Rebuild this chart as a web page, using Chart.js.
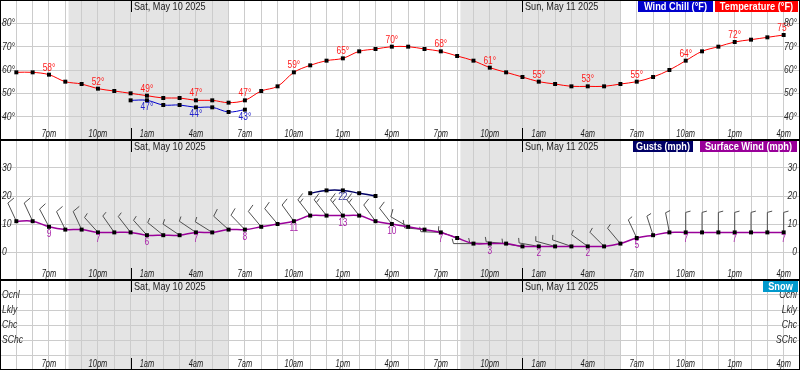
<!DOCTYPE html>
<html>
<head>
<meta charset="utf-8">
<script src="https://cdn.jsdelivr.net/npm/chart.js@4.4.1/dist/chart.umd.min.js"></script>
<style>
  html, body { margin: 0; padding: 0; background: #fff; }
  canvas { display: block; }
</style>
</head>
<body>
<canvas id="tempChart" width="800" height="140"></canvas>
<canvas id="windChart" width="800" height="140"></canvas>
<canvas id="snowChart" width="800" height="90"></canvas>
<script>
// hourly slots, 4pm Fri .. 5pm Sun (first and last slot are the frame edges)
var hourLabels = ['4pm','5pm','6pm','7pm','8pm','9pm','10pm','11pm',
  '12am','1am','2am','3am','4am','5am','6am','7am','8am','9am','10am','11am',
  '12pm','1pm','2pm','3pm','4pm','5pm','6pm','7pm','8pm','9pm','10pm','11pm',
  '12am','1am','2am','3am','4am','5am','6am','7am','8am','9am','10am','11am',
  '12pm','1pm','2pm','3pm','4pm','5pm'];
var dayLabels = ['Sat, May 10 2025', 'Sun, May 11 2025'];
// sunset -> sunrise, in hour slots
var nights = [[4.2, 14.0], [28.2, 38.0]];

// hourly forecast, 5pm Fri .. 4pm Sun
var temperature = [59,59,58,55,54,52,51,50,49,48,48,47,47,46,47,51,53,59,62,64,65,68,69,70,
                   70,69,68,66,64,61,59,57,55,54,53,53,53,54,55,57,60,64,68,70,72,73,74,75];
var windChillHours = [8,9,10,11,12,13,14,15];
var windChill = [47,47,45,45,44,44,42,43];
var windSpeed = [11,11,9,8,8,7,7,7,6,6,6,7,7,8,8,9,10,11,13,13,13,13,11,10,
                 9,8,7,5,3,3,3,2,2,2,2,2,2,3,5,6,7,7,7,7,7,7,7,7];
var windDir = [335,335,332,334,335,318,325,322,318,309,304,304,302,312,316,320,320,324,322,322,322,322,324,322,
               300,275,272,290,270,272,275,278,280,285,289,306,315,320,335,342,349,360,360,360,360,360,360,360];
var gustHours = [19,20,21,22,23];
var gusts = [21,22,22,21,20];
var snowChance = [];

var tempTicks = [40,50,60,70,80];
var windTicks = [0,10,20,30];
var chanceTicks = [2,3,4,5];
var chanceNames = ['SChc','Chc','Lkly','Ocnl'];

var FONT = '"Liberation Sans", Arial, sans-serif';
var forecastHours = hourLabels.map(function(_, i) { return i; }).slice(1, 49);

function onSlots(hours, values) {
  var out = hourLabels.map(function() { return null; });
  hours.forEach(function(h, k) { out[h] = values[k]; });
  return out;
}

function txt(ctx, s, x, y, font, color, align, squeeze) {
  ctx.font = font;
  ctx.fillStyle = color;
  ctx.textAlign = align || 'center';
  ctx.textBaseline = 'middle';
  ctx.fillText(s, x, y, ctx.measureText(s).width * (squeeze || 1));
}

function drawBarb(ctx, x, y, dir, speed) {
  var a = dir * Math.PI / 180;
  var ux = Math.sin(a), uy = -Math.cos(a);
  var tx = x + ux * 20, ty = y + uy * 20;
  var r = Math.round(speed / 5) * 5;
  var full = Math.floor(r / 10), half = (r % 10) / 5;
  if (r === 0 && speed > 0) half = 1;
  var b = 75 * Math.PI / 180;
  var bx = ux * Math.cos(b) - uy * Math.sin(b);
  var by = ux * Math.sin(b) + uy * Math.cos(b);
  ctx.beginPath();
  ctx.moveTo(x, y);
  ctx.lineTo(tx, ty);
  var pos = 0, k, px, py;
  for (k = 0; k < full; k++) {
    px = tx - ux * pos; py = ty - uy * pos;
    ctx.moveTo(px, py); ctx.lineTo(px + bx * 8, py + by * 8);
    pos += 3.5;
  }
  for (k = 0; k < half; k++) {
    px = tx - ux * pos; py = ty - uy * pos;
    ctx.moveTo(px, py); ctx.lineTo(px + bx * 5, py + by * 5);
  }
  ctx.stroke();
}

// panel frame: night shading, borders, hour/day labels, y labels, legend boxes
function framePlugin(yLabels, legend, valueLabels) {
  return {
    id: 'frame',
    beforeDraw: function(chart) {
      var xs = chart.scales.x, a = chart.chartArea, ctx = chart.ctx;
      ctx.save();
      ctx.fillStyle = '#e4e4e4';
      nights.forEach(function(n) {
        var x0 = xs.getPixelForValue(n[0]), x1 = xs.getPixelForValue(n[1]);
        ctx.fillRect(x0, a.top, x1 - x0, a.bottom - a.top);
      });
      ctx.restore();
    },
    afterDatasetsDraw: function(chart) {
      var ctx = chart.ctx;
      ctx.save();
      valueLabels.forEach(function(v) {
        var meta = chart.getDatasetMeta(v.dataset);
        var data = chart.data.datasets[v.dataset].data;
        data.forEach(function(val, i) {
          if (val === null || i % 3 !== 0) return;
          var p = meta.data[i];
          txt(ctx, val + v.suffix, p.x, p.y + v.dy, '11px ' + FONT, v.color, 'center', 0.76);
        });
      });
      ctx.restore();
    },
    afterDraw: function(chart) {
      var xs = chart.scales.x, ys = chart.scales.y, a = chart.chartArea, ctx = chart.ctx;
      var w = chart.width, h = chart.height;
      ctx.save();
      // hour labels every 3 hours
      hourLabels.forEach(function(lab, i) {
        if (i > 0 && i < 49 && i % 3 === 0) {
          txt(ctx, lab, xs.getPixelForValue(i), a.bottom - 6, 'italic 11px ' + FONT, '#1a1a1a', 'center', 0.68);
        }
      });
      // midnight markers and dates
      var d = 0;
      ctx.strokeStyle = '#000';
      ctx.lineWidth = 1;
      hourLabels.forEach(function(lab, i) {
        if (lab !== '12am') return;
        var x = Math.round(xs.getPixelForValue(i)) + 0.5;
        ctx.beginPath();
        ctx.moveTo(x, a.top); ctx.lineTo(x, a.top + 12);
        ctx.moveTo(x, a.bottom - 12); ctx.lineTo(x, a.bottom);
        ctx.stroke();
        txt(ctx, dayLabels[d++], x + 2.5, a.top + 7, '11px ' + FONT, '#1a1a1a', 'left', 0.83);
      });
      // y labels on both sides
      yLabels.forEach(function(t) {
        var y = ys.getPixelForValue(t[0]);
        txt(ctx, t[1], a.left + 2, y, 'italic 11px ' + FONT, '#2a2a2a', 'left', 0.78);
        txt(ctx, t[1], a.right - 3, y, 'italic 11px ' + FONT, '#2a2a2a', 'right', 0.78);
      });
      // legend boxes
      legend.forEach(function(l) {
        ctx.fillStyle = l.color;
        ctx.fillRect(l.x0, a.top + 1, l.x1 - l.x0, 11);
        ctx.font = 'bold 11px ' + FONT;
        var mw = Math.min(ctx.measureText(l.text).width * 0.84, l.x1 - l.x0 - 6);
        ctx.fillStyle = '#fff';
        ctx.textAlign = 'center';
        ctx.textBaseline = 'middle';
        ctx.fillText(l.text, (l.x0 + l.x1) / 2, a.top + 7, mw);
      });
      ctx.strokeStyle = '#000';
      ctx.strokeRect(0.5, 0.5, w - 1, h - 1);
      ctx.restore();
    }
  };
}

function panelOptions(yMin, yMax, step) {
  return {
    responsive: false,
    animation: false,
    devicePixelRatio: 1,
    layout: { padding: 0, autoPadding: false },
    plugins: { legend: { display: false }, tooltip: { enabled: false } },
    scales: {
      x: {
        type: 'category',
        grid: { color: '#cccccc', drawTicks: false },
        border: { display: false },
        ticks: { display: false }
      },
      y: {
        min: yMin, max: yMax,
        grid: { color: '#cccccc', drawTicks: false },
        border: { display: false },
        ticks: { display: false, stepSize: step }
      }
    }
  };
}

function lineSet(label, data, color, width) {
  return {
    label: label, data: data,
    borderColor: color, borderWidth: width,
    pointStyle: 'rect', pointRadius: 2.8,
    pointBackgroundColor: '#000', pointBorderWidth: 0,
    tension: 0.35, spanGaps: false
  };
}

// temperature panel
new Chart(document.getElementById('tempChart'), {
  type: 'line',
  data: {
    labels: hourLabels,
    datasets: [
      lineSet('Wind Chill (°F)', onSlots(windChillHours, windChill), '#0000cc', 1),
      lineSet('Temperature (°F)', onSlots(forecastHours, temperature), '#ff0000', 1)
    ]
  },
  options: panelOptions(30, 90, 10),
  plugins: [framePlugin(
    tempTicks.map(function(v) { return [v, v + '°']; }),
    [{ text: 'Wind Chill (°F)', color: '#0000cc', x0: 638, x1: 713 },
     { text: 'Temperature (°F)', color: '#ff0000', x0: 715, x1: 798 }],
    [{ dataset: 1, dy: -7, color: '#ff1a1a', suffix: '°' },
     { dataset: 0, dy: 7, color: '#2222cc', suffix: '°' }]
  )]
});

// wind panel
var windSlots = onSlots(forecastHours, windSpeed);
var dirSlots = onSlots(forecastHours, windDir);
new Chart(document.getElementById('windChart'), {
  type: 'line',
  data: {
    labels: hourLabels,
    datasets: [
      lineSet('Gusts (mph)', onSlots(gustHours, gusts), '#000066', 1.5),
      lineSet('Surface Wind (mph)', windSlots, '#990099', 1.5)
    ]
  },
  options: panelOptions(-10, 40, 10),
  plugins: [
    {
      id: 'barbs',
      beforeDatasetsDraw: function(chart) {
        var meta = chart.getDatasetMeta(1), ctx = chart.ctx;
        ctx.save();
        ctx.strokeStyle = '#505050';
        ctx.lineWidth = 1;
        windSlots.forEach(function(v, i) {
          if (v === null) return;
          var p = meta.data[i];
          drawBarb(ctx, p.x, p.y, dirSlots[i], v);
        });
        ctx.restore();
      }
    },
    framePlugin(
      windTicks.map(function(v) { return [v, String(v)]; }),
      [{ text: 'Gusts (mph)', color: '#000066', x0: 633, x1: 693 },
       { text: 'Surface Wind (mph)', color: '#990099', x0: 700, x1: 797 }],
      [{ dataset: 1, dy: 7, color: '#aa22aa', suffix: '' },
       { dataset: 0, dy: 7, color: '#333399', suffix: '' }]
    )
  ]
});

// snow panel (no snow in forecast)
new Chart(document.getElementById('snowChart'), {
  type: 'line',
  data: {
    labels: hourLabels,
    datasets: [lineSet('Snow', snowChance, '#0099cc', 1)]
  },
  options: panelOptions(0, 6, 1),
  plugins: [framePlugin(
    chanceTicks.map(function(v, k) { return [v, chanceNames[k]]; }),
    [{ text: 'Snow', color: '#0099cc', x0: 763, x1: 798 }],
    []
  )]
});
</script>
</body>
</html>
